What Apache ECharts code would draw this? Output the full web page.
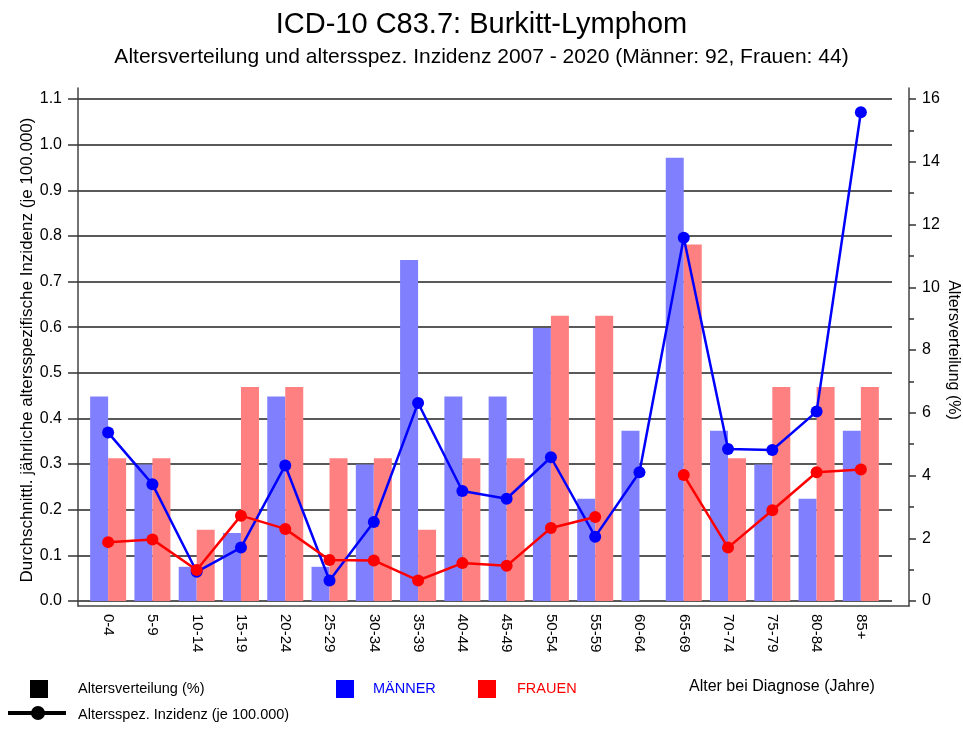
<!DOCTYPE html>
<html>
<head>
<meta charset="utf-8">
<script src="https://cdn.jsdelivr.net/npm/echarts@6/dist/echarts.min.js"></script>
<style>
  html, body { margin: 0; padding: 0; background: #fff; }
  #chart { width: 963px; height: 729px; }
</style>
</head>
<body>
<div id="chart"></div>
<script>
const categories = ['0-4', '5-9', '10-14', '15-19', '20-24', '25-29', '30-34', '35-39', '40-44',
  '45-49', '50-54', '55-59', '60-64', '65-69', '70-74', '75-79', '80-84', '85+']

// Altersverteilung (%)
const menPct = [6.52, 4.35, 1.09, 2.17, 6.52, 1.09, 4.35, 10.87, 6.52, 6.52, 8.70, 3.26, 5.43, 14.13, 5.43, 4.35, 3.26, 5.43]
const womenPct = [4.55, 4.55, 2.27, 6.82, 6.82, 4.55, 4.55, 2.27, 4.55, 4.55, 9.09, 9.09, 0, 11.36, 4.55, 6.82, 6.82, 6.82]

// Altersspez. Inzidenz (je 100.000)
const menInc = [0.369, 0.256, 0.064, 0.117, 0.297, 0.045, 0.173, 0.434, 0.241, 0.224, 0.315, 0.141, 0.282, 0.796, 0.333, 0.331, 0.415, 1.071]
const womenInc = [0.129, 0.135, 0.068, 0.187, 0.158, 0.090, 0.089, 0.045, 0.083, 0.077, 0.160, 0.184, null, 0.276, 0.117, 0.199, 0.282, 0.288]

const font = '"Liberation Sans", Arial, sans-serif'

const chart = echarts.init(document.getElementById('chart'))

const hidden = { show: false }
const noLine = { show: false, onZero: false }
const frameLine = { show: true, onZero: false, lineStyle: { color: '#444', width: 1.5 } }

const option = {
  animation: false,
  backgroundColor: '#fff',
  textStyle: { fontFamily: font, color: '#000' },
  title: [
    {
      text: 'ICD-10 C83.7: Burkitt-Lymphom',
      left: 'center',
      top: 5,
      textStyle: { fontSize: 29, fontWeight: 'normal', color: '#000', fontFamily: font }
    },
    {
      text: 'Altersverteilung und altersspez. Inzidenz 2007 - 2020 (Männer: 92, Frauen: 44)',
      left: 'center',
      top: 42,
      textStyle: { fontSize: 21, fontWeight: 'normal', color: '#000', fontFamily: font }
    }
  ],
  grid: [
    { left: 78, right: 71, top: 99, bottom: 128, outerBoundsMode: 'none' },  // left ticks, labels, grid lines
    { left: 78, right: 54, top: 88, bottom: 123, outerBoundsMode: 'none' },  // frame lines
    { left: 86, right: 80, top: 99, bottom: 128, outerBoundsMode: 'none' },  // data
    { left: 78, right: 54, top: 99, bottom: 128, outerBoundsMode: 'none' }   // right ticks, labels
  ],
  xAxis: [
    { gridIndex: 0, type: 'value', min: 0, max: 1, show: false },
    {
      gridIndex: 1, type: 'value', min: 0, max: 1,
      axisLine: frameLine, axisTick: hidden, axisLabel: hidden, splitLine: hidden
    },
    {
      gridIndex: 2, type: 'category', data: categories,
      axisLine: noLine, axisTick: hidden, splitLine: hidden,
      axisLabel: { rotate: -90, interval: 0, fontSize: 15, color: '#000', margin: 13, fontFamily: font }
    },
    { gridIndex: 3, type: 'value', min: 0, max: 1, show: false }
  ],
  yAxis: [
    {
      gridIndex: 0, type: 'value', min: 0, max: 1.1, interval: 0.1,
      axisLine: noLine,
      axisTick: { show: true, length: 10, lineStyle: { color: '#333', width: 1.5 } },
      splitLine: { show: true, lineStyle: { color: '#222', width: 1.5 } },
      axisLabel: { fontSize: 16, color: '#000', margin: 16, fontFamily: font, formatter: v => v.toFixed(1) },
      name: 'Durchschnittl. jährliche altersspezifische Inzidenz (je 100.000)',
      nameLocation: 'middle',
      nameRotate: 90,
      nameGap: 42,
      nameMoveOverlap: false,
      nameTextStyle: { fontSize: 17, color: '#000', fontFamily: font }
    },
    {
      gridIndex: 3, type: 'value', position: 'right',
      min: 0, max: 16, interval: 2,
      axisLine: noLine,
      axisTick: { show: true, length: 7, lineStyle: { color: '#333', width: 1.5 } },
      minorTick: { show: true, splitNumber: 2, length: 5, lineStyle: { color: '#333', width: 1.5 } },
      splitLine: hidden,
      axisLabel: { fontSize: 16, color: '#000', margin: 13, fontFamily: font },
      name: 'Altersverteilung (%)',
      nameLocation: 'middle',
      nameRotate: -90,
      nameGap: 36,
      nameMoveOverlap: false,
      nameTextStyle: { fontSize: 16, color: '#000', fontFamily: font }
    },
    {
      gridIndex: 1, type: 'value', min: 0, max: 1,
      axisLine: frameLine, axisTick: hidden, axisLabel: hidden, splitLine: hidden
    },
    {
      gridIndex: 1, type: 'value', position: 'right', min: 0, max: 1,
      axisLine: frameLine, axisTick: hidden, axisLabel: hidden, splitLine: hidden
    },
    { gridIndex: 2, type: 'value', min: 0, max: 1.1, show: false },
    { gridIndex: 2, type: 'value', min: 0, max: 16, show: false }
  ],
  series: [
    {
      name: 'MÄNNER %', type: 'bar', xAxisIndex: 2, yAxisIndex: 5,
      data: menPct, barWidth: 18, barGap: '0%',
      itemStyle: { color: '#8080ff' }, z: 2
    },
    {
      name: 'FRAUEN %', type: 'bar', xAxisIndex: 2, yAxisIndex: 5,
      data: womenPct, barWidth: 18, barGap: '0%',
      itemStyle: { color: '#ff8080' }, z: 2
    },
    {
      name: 'MÄNNER Inzidenz', type: 'line', xAxisIndex: 2, yAxisIndex: 4,
      data: menInc, symbol: 'circle', symbolSize: 12,
      lineStyle: { color: '#0000ff', width: 2.5 },
      itemStyle: { color: '#0000ff' }, z: 4
    },
    {
      name: 'FRAUEN Inzidenz', type: 'line', xAxisIndex: 2, yAxisIndex: 4,
      data: womenInc, symbol: 'circle', symbolSize: 12, connectNulls: false,
      lineStyle: { color: '#ff0000', width: 2.5 },
      itemStyle: { color: '#ff0000' }, z: 5
    }
  ],
  graphic: [
    // legend
    { type: 'rect', shape: { x: 30, y: 680, width: 18, height: 18 }, style: { fill: '#000' } },
    { type: 'text', x: 78, y: 689, style: { text: 'Altersverteilung (%)', font: '14.5px ' + font, fill: '#000', verticalAlign: 'middle' } },
    { type: 'line', shape: { x1: 8, y1: 713, x2: 66, y2: 713 }, style: { stroke: '#000', lineWidth: 4 } },
    { type: 'circle', shape: { cx: 38, cy: 713, r: 7 }, style: { fill: '#000' } },
    { type: 'text', x: 78, y: 715, style: { text: 'Altersspez. Inzidenz (je 100.000)', font: '14.5px ' + font, fill: '#000', verticalAlign: 'middle' } },
    { type: 'rect', shape: { x: 336, y: 680, width: 18, height: 18 }, style: { fill: '#0000ff' } },
    { type: 'text', x: 373, y: 689, style: { text: 'MÄNNER', font: '14.5px ' + font, fill: '#0000ff', verticalAlign: 'middle' } },
    { type: 'rect', shape: { x: 478, y: 680, width: 18, height: 18 }, style: { fill: '#ff0000' } },
    { type: 'text', x: 517, y: 689, style: { text: 'FRAUEN', font: '14.5px ' + font, fill: '#ff0000', verticalAlign: 'middle' } },
    { type: 'text', x: 689, y: 687, style: { text: 'Alter bei Diagnose (Jahre)', font: '16px ' + font, fill: '#000', verticalAlign: 'middle' } }
  ]
}

chart.setOption(option)
</script>
</body>
</html>
